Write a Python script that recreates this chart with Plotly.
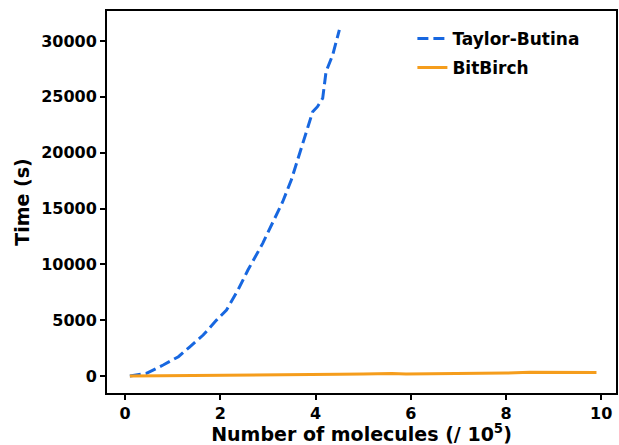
import plotly.graph_objects as go

# Taylor-Butina (x in 1e5 molecules, time in s)
tb_x = [0.1, 0.45, 0.8, 1.12, 1.36, 1.64, 1.92, 2.13, 2.37, 2.58, 2.89, 3.10, 3.31, 3.49, 3.66, 3.80, 3.94, 4.04, 4.15, 4.22, 4.27, 4.36, 4.50]
tb_y = [0, 240, 985, 1730, 2620, 3670, 5010, 5910, 7700, 9490, 11880, 13670, 15610, 17550, 19940, 21730, 23670, 24120, 24870, 27250, 27850, 28750, 31000]

# BitBirch
bb_x = [0.1, 0.5, 1.0, 1.5, 2.0, 2.5, 3.0, 3.5, 4.0, 4.5, 5.0, 5.2, 5.4, 5.6, 5.9, 6.5, 7.0, 7.5, 8.0, 8.5, 9.0, 9.5, 9.9]
bb_y = [0, 10, 30, 50, 70, 90, 110, 130, 150, 170, 190, 220, 250, 220, 190, 200, 210, 230, 270, 330, 310, 310, 320]

y_ticks = [0, 5000, 10000, 15000, 20000, 25000, 30000]
y_tick_labels = ["0", "5000", "10000", "15000", "20000", "25000", "30000"]
x_ticks = [0, 2, 4, 6, 8, 10]
x_tick_labels = ["0", "2", "4", "6", "8", "10"]

fig = go.Figure()
fig.add_trace(go.Scatter(x=tb_x, y=tb_y, mode="lines", name="Taylor-Butina", legend="legend",
                         line=dict(color="#1767e0", width=3, dash="11px,5px")))
fig.add_trace(go.Scatter(x=bb_x, y=bb_y, mode="lines", name="BitBirch", legend="legend2",
                         line=dict(color="#f59d1c", width=3)))

font_fam = "DejaVu Sans"
leg_font = dict(size=17, family=font_fam, weight="bold")
fig.update_layout(
    width=619, height=445,
    margin=dict(l=107, r=1, t=11, b=52),
    plot_bgcolor="white", paper_bgcolor="white",
    font=dict(family=font_fam, color="black"),
    showlegend=True,
    legend=dict(x=0.60, y=0.974, xanchor="left", yanchor="top",
                bgcolor="rgba(0,0,0,0)", font=leg_font),
    legend2=dict(x=0.60, y=0.898, xanchor="left", yanchor="top",
                 bgcolor="rgba(0,0,0,0)", font=leg_font),
)
fig.update_xaxes(range=[-0.38, 10.31], tickvals=x_ticks, ticktext=x_tick_labels,
                 showgrid=False, zeroline=False,
                 showline=True, linecolor="black", linewidth=2, mirror=True,
                 ticks="outside", ticklen=5, tickwidth=1.5, tickcolor="black",
                 tickfont=dict(size=16, family=font_fam, weight="bold"),
                 title=dict(text="Number of molecules (/ 10<sup>5</sup>)",
                            font=dict(size=19, family=font_fam, weight="bold"), standoff=5))
fig.update_yaxes(range=[-1520, 32690], tickvals=y_ticks, ticktext=y_tick_labels,
                 showgrid=False, zeroline=False,
                 showline=True, linecolor="black", linewidth=2, mirror=True,
                 ticks="outside", ticklen=5, tickwidth=1.5, tickcolor="black",
                 tickfont=dict(size=16, family=font_fam, weight="bold"),
                 title=dict(text="Time (s)", font=dict(size=19, family=font_fam, weight="bold"), standoff=6))

fig.write_html("out.html")
